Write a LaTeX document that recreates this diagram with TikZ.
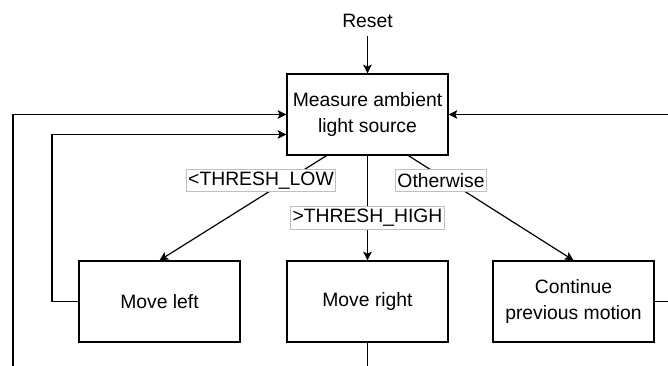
\documentclass[tikz,border=0pt]{standalone}
\usepackage{fontspec}
\setmainfont{Liberation Sans}
\usetikzlibrary{arrows.meta}
\begin{document}
\begin{tikzpicture}[x=0.75pt,y=-0.75pt,
  every node/.style={font=\fontsize{14.5}{19.5}\selectfont},
  stepbox/.style={draw,line width=1pt,minimum width=120.75pt,minimum height=60.75pt,inner sep=0pt,align=center},
  lbl/.style={fill=white,draw=black!25,line width=0.5pt,inner sep=1.5pt,minimum height=17pt},
  wire/.style={line width=0.9pt},
  flow/.style={wire,-{Stealth[length=6.5pt,width=6.5pt,inset=1.5pt]}}]
\path[use as bounding box] (0,0) rectangle (668,366);

% states
\node (reset) at (367.5,21) {Reset};
\node[stepbox] (measure) at (367.5,114.5) {Measure ambient\\light source};
\node[stepbox] (left) at (159.5,301.5) {Move left};
\node[stepbox] (right) at (367.5,301.5) {Move right};
\node[stepbox] (cont) at (573.5,301.5) {Continue\\previous motion};

% loose ends running off the frame
\coordinate (outL) at (13,366);
\coordinate (outR) at (668,114.5);
\coordinate (outC) at (668,301.5);
\coordinate (outB) at (367.5,366);

% transitions
\draw[flow] (reset.south) ++(0,-3pt) -- (measure.north);
\draw[flow] ([xshift=-30.75pt]measure.south) -- (left.north);
\draw[flow] (measure.south) -- (right.north);
\draw[flow] ([xshift=30.75pt]measure.south) -- (cont.north);

% feedback loops
\draw[flow] (outL) |- (measure.west);
\draw[flow] (left.west) -| (52,200) |- ([yshift=-15pt]measure.west);
\draw[flow] (outR) -- (measure.east);
\draw[wire] (cont.east) -- (outC);
\draw[wire] (right.south) -- (outB);

% branch conditions
\node[lbl] (low) at (261,180.5) {<THRESH\_LOW};
\node[lbl] (high) at (367.5,218) {>THRESH\_HIGH};
\node[lbl] (other) at (441,180.5) {Otherwise};
\end{tikzpicture}
\end{document}
